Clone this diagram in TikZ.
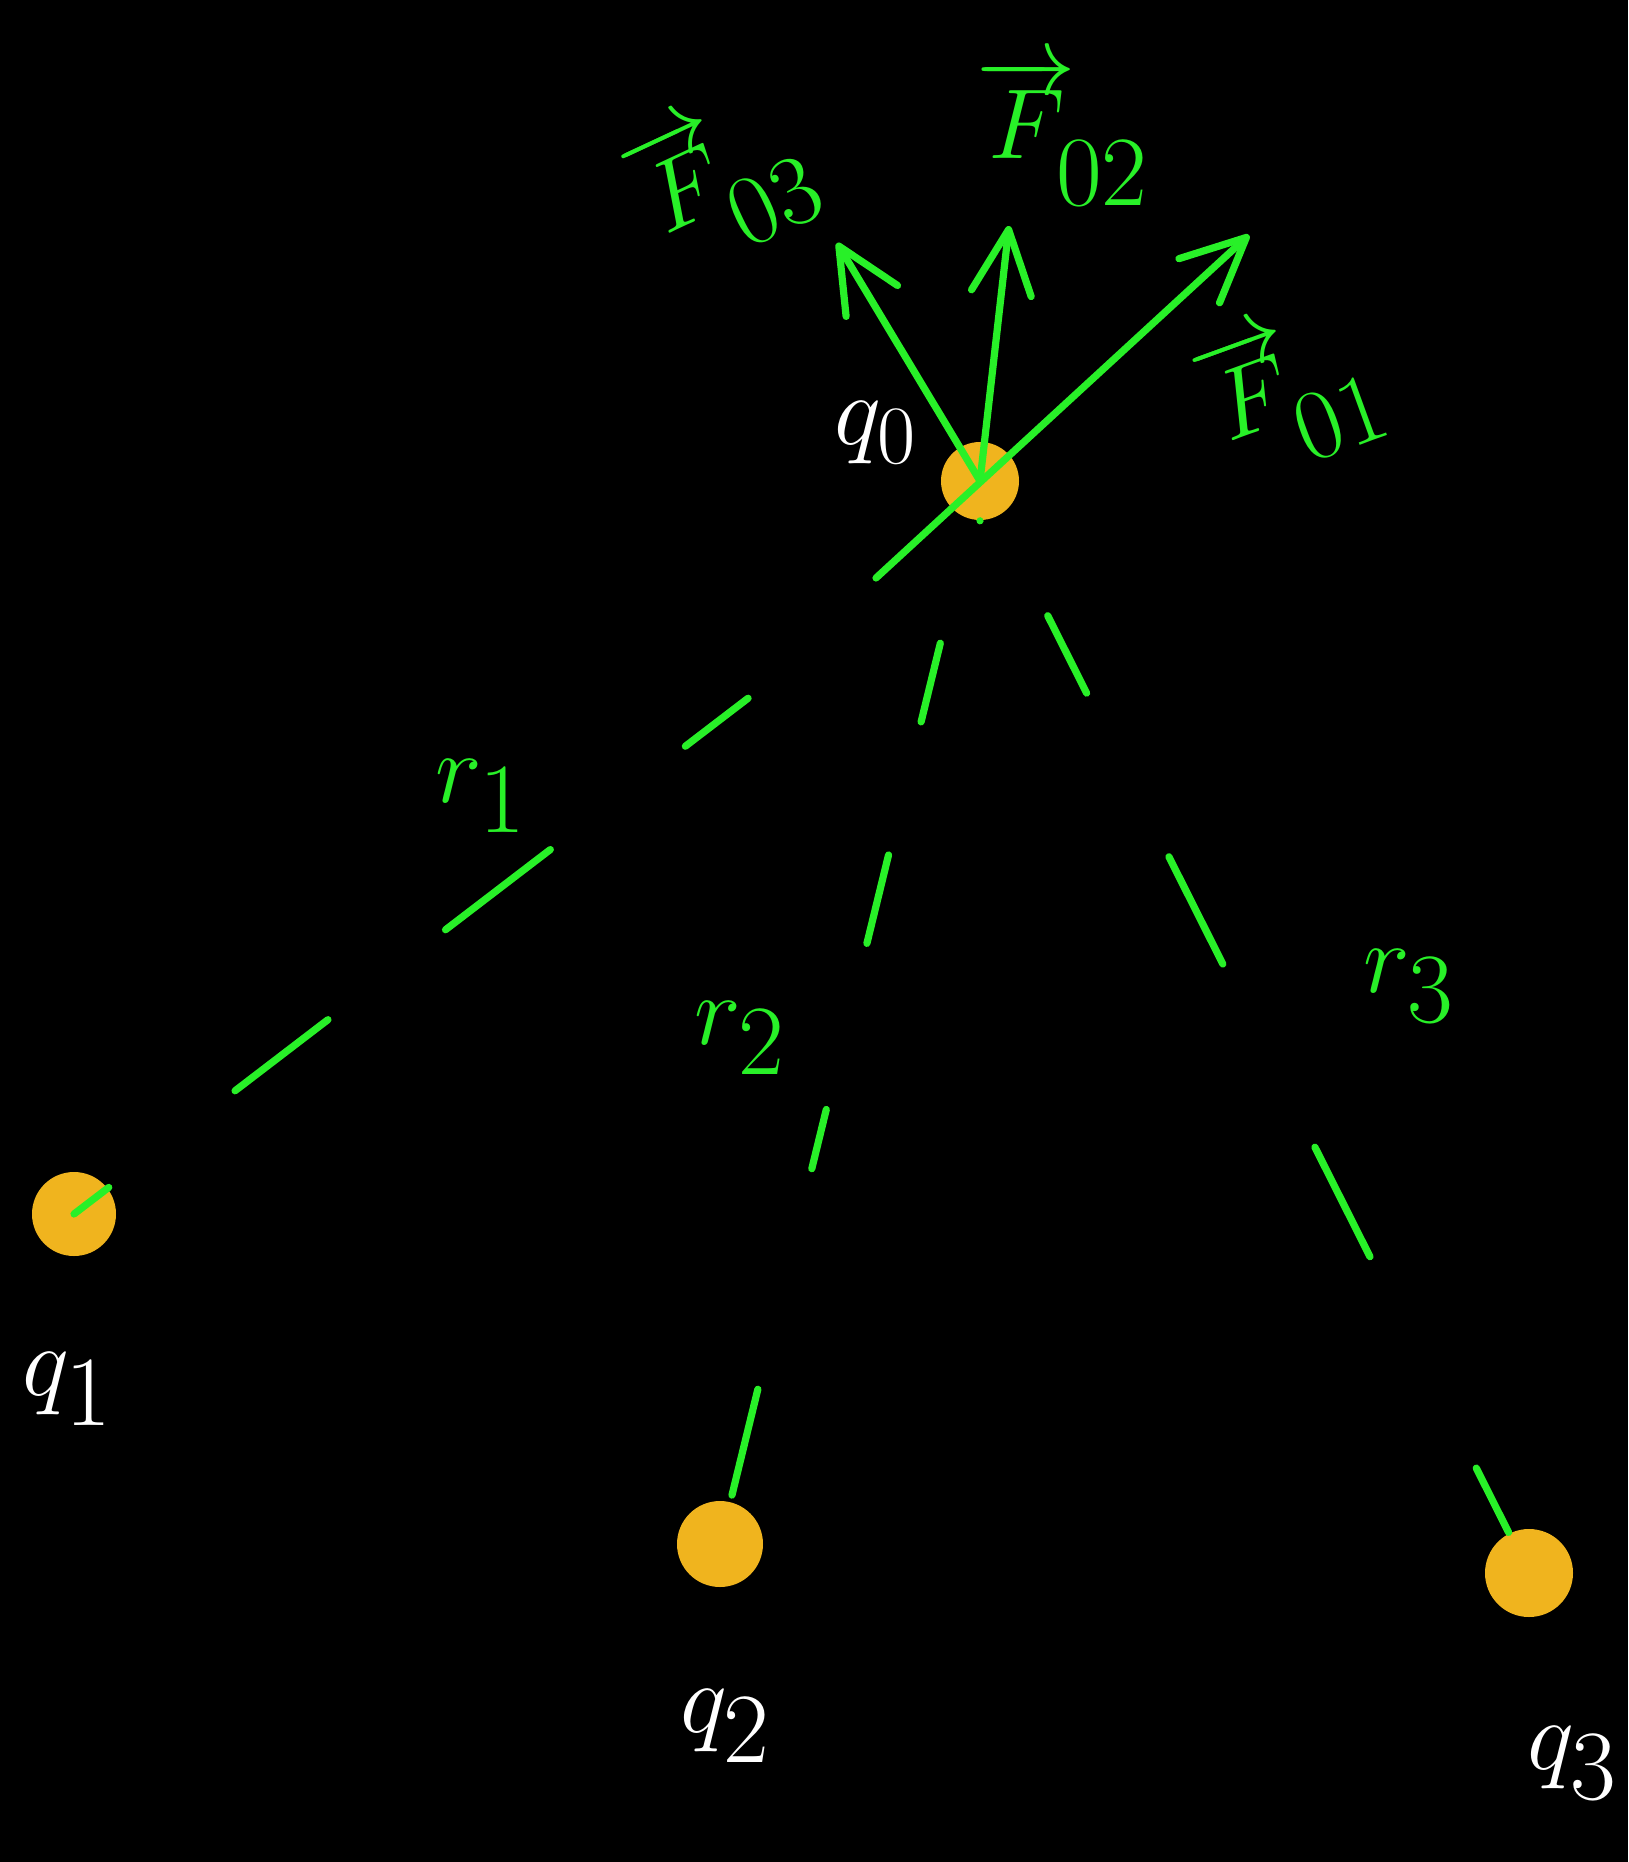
\documentclass[tikz,border=0pt]{standalone}
\usepackage{tikz}
\usetikzlibrary{arrows.meta}
\definecolor{chalkgreen}{RGB}{40,240,40}
\definecolor{chargeorange}{RGB}{240,180,30}

\begin{document}
\begin{tikzpicture}[
  x=0.25pt, y=-0.25pt,
  >={Straight Barb[length=16pt, width=15pt, round]},
  line cap=round,
  charge/.style = {circle, fill=chargeorange, minimum size=20pt, inner sep=0pt},
  force/.style  = {->, draw=chalkgreen, line width=1.8pt, line join=round},
  sep/.style    = {draw=chalkgreen, line width=1.8pt},
  qlab/.style   = {text=white, font=\fontsize{38}{42}\selectfont, inner sep=0pt},
  rlab/.style   = {text=chalkgreen, font=\fontsize{34}{40}\selectfont, inner sep=0pt},
  flab/.style   = {text=chalkgreen, font=\fontsize{42}{46}\selectfont, inner sep=0pt},
]
\fill[black] (0,0) rectangle (1628,1862);
\useasboundingbox (0,0) rectangle (1628,1862);

% Charges
\node[charge, minimum size=19.5pt] (q0) at (980,481) {};
\node[charge, minimum size=21pt]   (q1) at (74,1214) {};
\node[charge, minimum size=21.5pt] (q2) at (720,1544) {};
\node[charge, minimum size=22pt]   (q3) at (1529,1573) {};

% Charge labels
\node[qlab, font=\fontsize{30}{34}\selectfont] (l0) at (876,433) {$q_0$};
\node[qlab] (l1) at (68,1389)  {$q_1$};
\node[qlab] (l2) at (726,1726) {$q_2$};
\node[qlab] (l3) at (1573,1763) {$q_3$};

% Separations, dashes placed as hand drawn
\draw[sep, dash pattern=on 19.75pt off 42.5pt on 33pt off 37pt on 29.25pt off 39.75pt on 11pt off 73pt,
      dash phase=212.25pt] (q0.south) -- (q1.center);
\draw[sep, dash pattern=on 20.25pt off 34.25pt on 22.75pt off 42.75pt on 15.25pt off 56.75pt on 27.25pt off 54pt,
      dash phase=231.5pt] (q0.center) -- (q2.center);
\draw[sep, dash pattern=on 21.65pt off 45.8pt on 30pt off 51.25pt on 30.65pt off 59.15pt on 18pt off 49.25pt,
      dash phase=268.05pt] (q0.center) -- (q3.center);

% Separation labels
\node[rlab] (r1) at (481,796)  {$r_1$};
\node[rlab] (r2) at (740,1038) {$r_2$};
\node[rlab] (r3) at (1409,986) {$r_3$};

% Forces on q0
\coordinate (f03) at (837,243);
\coordinate (f02) at (1009,226);
\coordinate (f01) at (1249,235);
\coordinate (f01tail) at (876,578);
\draw[force] (q0.center) -- (f03);
\draw[force] (q0.center) -- (f02);
\draw[force] (f01tail) -- (f01);

% Force labels
\node[flab, rotate=25] (lf03) at (722,180)
  {$\overrightarrow{F}\kern-5pt{}_{\raisebox{-8pt}{$\scriptstyle 03$}}$};
\node[flab]            (lf02) at (1063,132)
  {$\overrightarrow{F}\kern-5pt{}_{\raisebox{-8pt}{$\scriptstyle 02$}}$};
\node[flab, rotate=20] (lf01) at (1290,392)
  {$\overrightarrow{F}\kern-5pt{}_{\raisebox{-8pt}{$\scriptstyle 01$}}$};
\end{tikzpicture}
\end{document}
